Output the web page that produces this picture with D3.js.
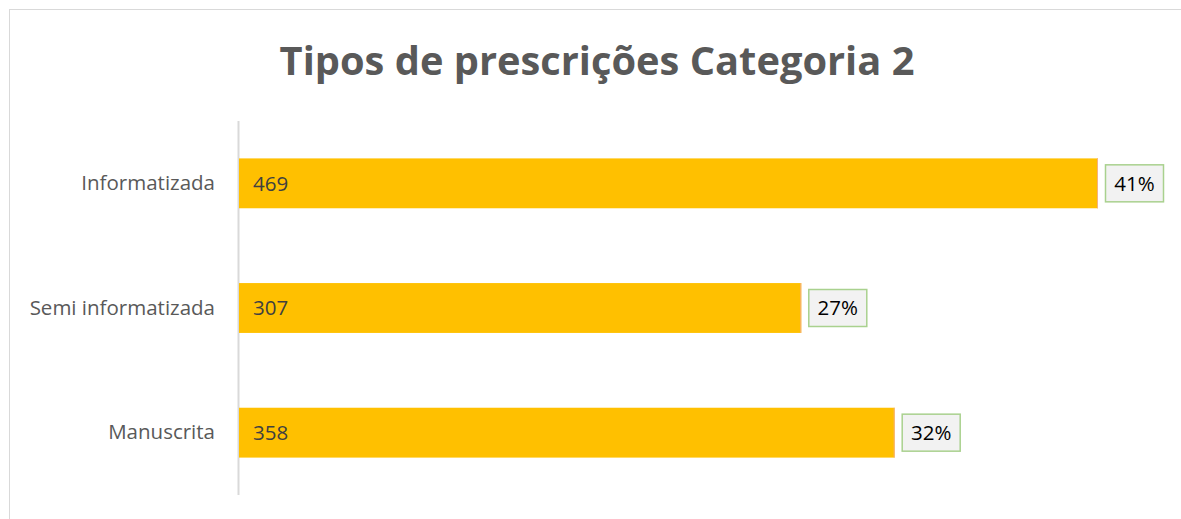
<!DOCTYPE html>
<html>
<head>
<meta charset="utf-8">
<script src="https://cdn.jsdelivr.net/npm/d3@7"></script>
<style>
  body { margin: 0; background: #fff; }
  svg { display: block; }
</style>
</head>
<body>
<svg id="chart" width="1181" height="519"></svg>
<script>
const title = "Tipos de prescrições Categoria 2";
const categories = ["Informatizada", "Semi informatizada", "Manuscrita"];
const values = [469, 307, 358];
const percentLabels = ["41%", "27%", "32%"];

const svg = d3.select("#chart");
const margin = {top: 121, left: 239, bottom: 24};
const width = 1181, height = 519;

// chart frame (cropped on right/bottom in the original)
svg.append("rect")
    .attr("x", 9.5).attr("y", 9.5)
    .attr("width", 1200).attr("height", 600)
    .attr("fill", "none")
    .attr("stroke", "#d9d9d9")
    .attr("stroke-width", 1);

// title
const t = svg.append("text")
    .attr("x", 597).attr("y", 75)
    .attr("text-anchor", "middle")
    .attr("font-family", "'Open Sans', sans-serif")
    .attr("font-weight", "bold")
    .attr("font-size", 40)
    .attr("fill", "#595959")
    .text(title);
const tw = t.node().getComputedTextLength();
t.attr("font-size", 40 * 635 / tw);

const x = d3.scaleLinear().domain([0, 469]).range([margin.left, 1098]);
const y = d3.scaleBand().domain(categories)
    .range([margin.top, height - margin.bottom])
    .paddingInner(0.6).paddingOuter(0.3);

// axis line
svg.append("line")
    .attr("x1", margin.left - 0.5).attr("x2", margin.left - 0.5)
    .attr("y1", margin.top).attr("y2", height - margin.bottom)
    .attr("stroke", "#d9d9d9").attr("stroke-width", 2);

const yAxis = d3.axisLeft(y).tickSize(0).tickPadding(24);
const ga = svg.append("g").attr("transform", "translate(" + margin.left + ",0)").call(yAxis);
ga.select(".domain").remove();
ga.selectAll("text")
    .attr("font-family", "'Open Sans', sans-serif")
    .attr("font-size", 20.5)
    .attr("fill", "#595959");

const rows = categories.map((c, i) => ({cat: c, value: values[i], pct: percentLabels[i]}));

svg.selectAll(".bar")
    .data(rows)
    .enter().append("rect")
    .attr("class", "bar")
    .attr("x", margin.left)
    .attr("y", d => y(d.cat))
    .attr("width", d => x(d.value) - margin.left)
    .attr("height", y.bandwidth())
    .attr("fill", "#FFC000");

// thin reddish edge at bar end
svg.selectAll(".bar-end")
    .data(rows)
    .enter().append("rect")
    .attr("x", d => x(d.value) - 1)
    .attr("y", d => y(d.cat))
    .attr("width", 1)
    .attr("height", y.bandwidth())
    .attr("fill", "#F4B183");

svg.selectAll(".val")
    .data(rows)
    .enter().append("text")
    .attr("x", margin.left + 14)
    .attr("y", d => y(d.cat) + y.bandwidth() / 2)
    .attr("dy", "0.35em")
    .attr("font-family", "'Open Sans', sans-serif")
    .attr("font-size", 20.5)
    .attr("fill", "#404040")
    .text(d => d.value);

const pg = svg.selectAll(".pct")
    .data(rows)
    .enter().append("g")
    .attr("transform", d => "translate(" + (x(d.value) + 7) + "," + (y(d.cat) + y.bandwidth() / 2) + ")");
pg.append("rect")
    .attr("x", 0.5).attr("y", -18.5)
    .attr("width", 58).attr("height", 37)
    .attr("fill", "#F2F2F2")
    .attr("stroke", "#A9D18E")
    .attr("stroke-width", 1.5);
pg.append("text")
    .attr("x", 29.5).attr("y", 0)
    .attr("dy", "0.35em")
    .attr("text-anchor", "middle")
    .attr("font-family", "'Open Sans', sans-serif")
    .attr("font-size", 20.5)
    .attr("fill", "#000")
    .text(d => d.pct);
</script>
</body>
</html>
